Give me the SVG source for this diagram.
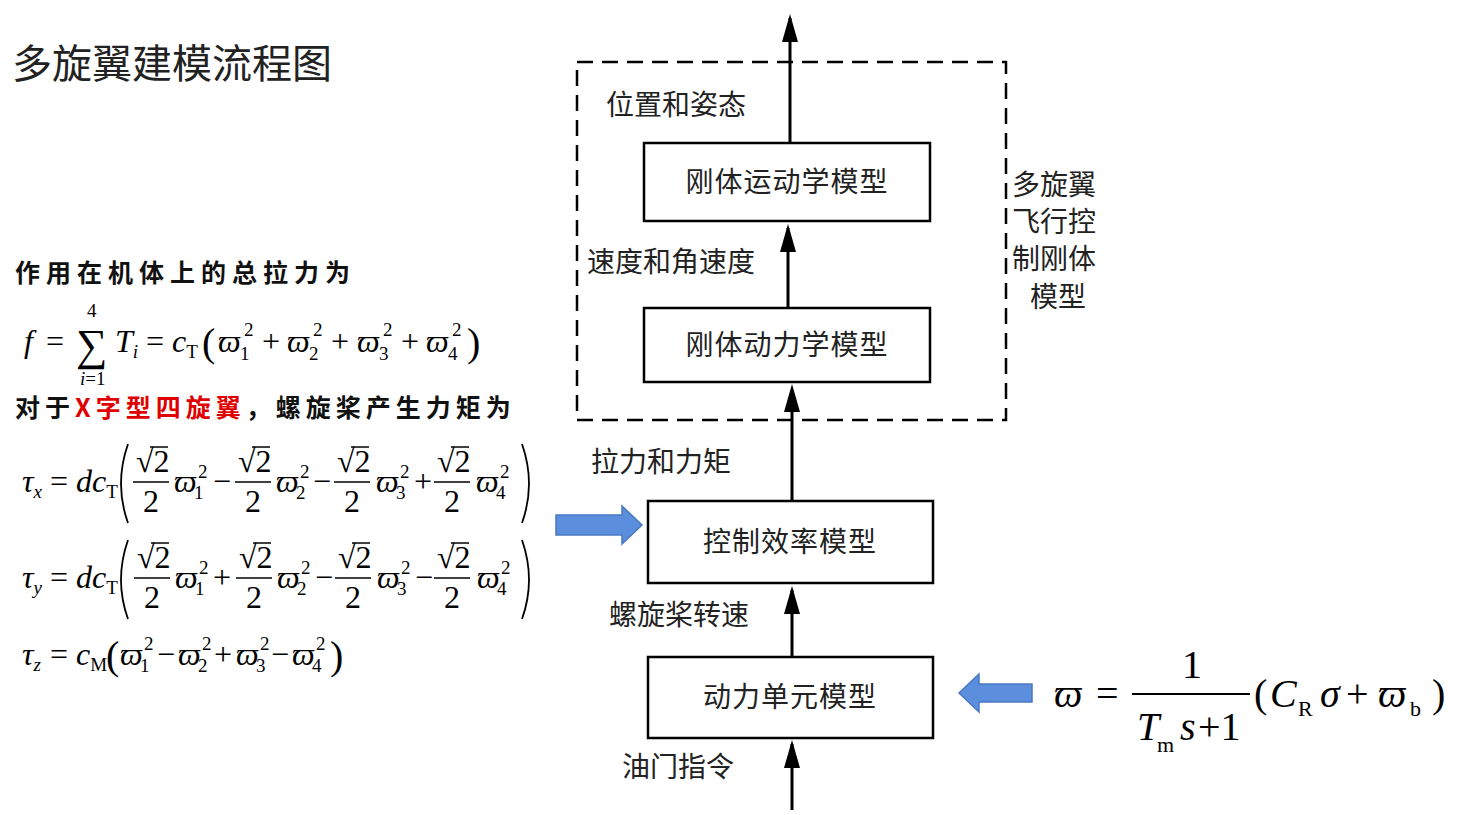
<svg xmlns="http://www.w3.org/2000/svg" width="1465" height="815" viewBox="0 0 1465 815">
<style>
.cn{font-family:"Noto Sans CJK SC",sans-serif;fill:#222}
.lb{font-size:28px}
.box{fill:#fff;stroke:#000;stroke-width:2.5}
.ln{stroke:#000;stroke-width:3;fill:none}
.m{font-family:"Liberation Serif",serif;font-size:32px;fill:#000}
.i{font-style:italic}
.s{font-size:19px}
.big{font-size:40px}
.bar{stroke:#000;stroke-width:1.5}
.pr{fill:none;stroke:#000;stroke-width:1.8}
.bk{font-family:"Noto Sans CJK SC",sans-serif;font-weight:bold;font-size:25px;fill:#111}
</style>
<defs>
<g id="frac">
<text class="m" x="3" y="-10">√2</text>
<line class="bar" x1="17" y1="-35" x2="35" y2="-35"/>
<line class="bar" x1="0" y1="0" x2="36" y2="0"/>
<text class="m" x="10" y="30">2</text>
</g>
</defs>
<rect width="1465" height="815" fill="#fff"/>
<text class="cn" x="12" y="78" style="font-size:40px">多旋翼建模流程图</text>

<g id="connectors">
<rect x="577" y="62" width="429" height="358" fill="none" stroke="#000" stroke-width="2.5" stroke-dasharray="16,9"/>
<line class="ln" x1="790" y1="143" x2="790" y2="18"/><path d="M782,42L790,14L798,42z"/>
<line class="ln" x1="788" y1="308" x2="788" y2="228"/><path d="M780,252L788,224L796,252z"/>
<line class="ln" x1="792" y1="501" x2="792" y2="390"/><path d="M784,412L792,384L800,412z"/>
<line class="ln" x1="792" y1="657" x2="792" y2="590"/><path d="M784,614L792,586L800,614z"/>
<line class="ln" x1="792" y1="810" x2="792" y2="744"/><path d="M784,768L792,740L800,768z"/>
<path d="M556,515H622V506L642,525L622,544V535H556z" fill="#5b8fde" stroke="#4a78c0" stroke-width="1.5"/>
<path d="M1032,684H979V674L959,693L979,712V702H1032z" fill="#5b8fde" stroke="#4a78c0" stroke-width="1.5"/>
</g>

<g id="n1"><rect class="box" x="644" y="143" width="286" height="78"/><text class="cn lb" x="787" y="192" text-anchor="middle" letter-spacing="1">刚体运动学模型</text></g>
<g id="n2"><rect class="box" x="644" y="308" width="286" height="74"/><text class="cn lb" x="787" y="355" text-anchor="middle" letter-spacing="1">刚体动力学模型</text></g>
<g id="n3"><rect class="box" x="648" y="501" width="285" height="82"/><text class="cn lb" x="790" y="552" text-anchor="middle" letter-spacing="1">控制效率模型</text></g>
<g id="n4"><rect class="box" x="648" y="657" width="285" height="81"/><text class="cn lb" x="790" y="707" text-anchor="middle" letter-spacing="1">动力单元模型</text></g>

<g id="labels" class="cn lb">
<text x="606" y="115">位置和姿态</text>
<text x="587" y="272">速度和角速度</text>
<text x="591" y="472">拉力和力矩</text>
<text x="609" y="625">螺旋桨转速</text>
<text x="622" y="777">油门指令</text>
<text x="1012" y="195">多旋翼</text>
<text x="1012" y="232">飞行控</text>
<text x="1012" y="269">制刚体</text>
<text x="1030" y="307">模型</text>
</g>

<text class="bk" x="15" y="282" letter-spacing="6">作用在机体上的总拉力为</text>
<text class="bk" x="15" y="417" letter-spacing="5">对于<tspan fill="#e00000">X字型四旋翼</tspan>，螺旋桨产生力矩为</text>

<!-- f formula -->
<g>
<text class="m i" x="24" y="352">f</text>
<text class="m" x="46" y="352">=</text>
<text class="m" x="76" y="360" style="font-size:44px">∑</text>
<text class="m s" x="87" y="317">4</text>
<text class="m s" x="80" y="385"><tspan class="i">i</tspan>=1</text>
<text class="m i" x="115" y="352">T<tspan class="s" dy="6">i</tspan></text>
<text class="m" x="146" y="352">=</text>
<text class="m i" x="172" y="352">c<tspan class="s" font-style="normal" dy="6">T</tspan></text>
<text class="m big" x="202" y="356">(</text>
<text class="m i" x="218" y="352">ϖ</text><text class="m s" x="244" y="336">2</text><text class="m s" x="240" y="360">1</text>
<text class="m" x="262" y="352">+</text>
<text class="m i" x="287" y="352">ϖ</text><text class="m s" x="313" y="336">2</text><text class="m s" x="309" y="360">2</text>
<text class="m" x="331" y="352">+</text>
<text class="m i" x="357" y="352">ϖ</text><text class="m s" x="383" y="336">2</text><text class="m s" x="379" y="360">3</text>
<text class="m" x="401" y="352">+</text>
<text class="m i" x="426" y="352">ϖ</text><text class="m s" x="452" y="336">2</text><text class="m s" x="448" y="360">4</text>
<text class="m big" x="467" y="356">)</text>
</g>

<!-- tau x -->
<g>
<text class="m i" x="22" y="492">τ<tspan class="s" dy="6">x</tspan></text>
<text class="m" x="50" y="492">=</text>
<text class="m i" x="76" y="492">dc<tspan class="s" font-style="normal" dy="6">T</tspan></text>
<path class="pr" d="M128,444Q114,484 128,523"/>
<path class="pr" d="M522,444Q536,484 522,523"/>
<use href="#frac" x="133" y="482"/>
<text class="m i" x="174" y="492">ϖ</text><text class="m s" x="198" y="478">2</text><text class="m s" x="194" y="499">1</text>
<text class="m" x="213" y="492">−</text>
<use href="#frac" x="235" y="482"/>
<text class="m i" x="276" y="492">ϖ</text><text class="m s" x="300" y="478">2</text><text class="m s" x="296" y="499">2</text>
<text class="m" x="313" y="492">−</text>
<use href="#frac" x="334" y="482"/>
<text class="m i" x="376" y="492">ϖ</text><text class="m s" x="400" y="478">2</text><text class="m s" x="396" y="499">3</text>
<text class="m" x="414" y="492">+</text>
<use href="#frac" x="434" y="482"/>
<text class="m i" x="476" y="492">ϖ</text><text class="m s" x="500" y="478">2</text><text class="m s" x="496" y="499">4</text>
</g>

<!-- tau y -->
<g>
<text class="m i" x="22" y="588">τ<tspan class="s" dy="6">y</tspan></text>
<text class="m" x="50" y="588">=</text>
<text class="m i" x="76" y="588">dc<tspan class="s" font-style="normal" dy="6">T</tspan></text>
<path class="pr" d="M128,540Q114,580 128,619"/>
<path class="pr" d="M522,540Q536,580 522,619"/>
<use href="#frac" x="134" y="578"/>
<text class="m i" x="175" y="588">ϖ</text><text class="m s" x="199" y="574">2</text><text class="m s" x="195" y="595">1</text>
<text class="m" x="213" y="588">+</text>
<use href="#frac" x="236" y="578"/>
<text class="m i" x="277" y="588">ϖ</text><text class="m s" x="301" y="574">2</text><text class="m s" x="297" y="595">2</text>
<text class="m" x="315" y="588">−</text>
<use href="#frac" x="335" y="578"/>
<text class="m i" x="377" y="588">ϖ</text><text class="m s" x="401" y="574">2</text><text class="m s" x="397" y="595">3</text>
<text class="m" x="415" y="588">−</text>
<use href="#frac" x="434" y="578"/>
<text class="m i" x="477" y="588">ϖ</text><text class="m s" x="501" y="574">2</text><text class="m s" x="497" y="595">4</text>
</g>

<!-- tau z -->
<g>
<text class="m i" x="22" y="665">τ<tspan class="s" dy="6">z</tspan></text>
<text class="m" x="50" y="665">=</text>
<text class="m i" x="76" y="665">c<tspan class="s" font-style="normal" dy="6">M</tspan></text>
<text class="m big" x="106" y="669">(</text>
<text class="m i" x="120" y="665">ϖ</text><text class="m s" x="144" y="650">2</text><text class="m s" x="140" y="672">1</text>
<text class="m" x="157" y="665">−</text>
<text class="m i" x="178" y="665">ϖ</text><text class="m s" x="202" y="650">2</text><text class="m s" x="198" y="672">2</text>
<text class="m" x="214" y="665">+</text>
<text class="m i" x="236" y="665">ϖ</text><text class="m s" x="260" y="650">2</text><text class="m s" x="256" y="672">3</text>
<text class="m" x="271" y="665">−</text>
<text class="m i" x="292" y="665">ϖ</text><text class="m s" x="316" y="650">2</text><text class="m s" x="312" y="672">4</text>
<text class="m big" x="330" y="669">)</text>
</g>

<!-- omega formula -->
<g>
<text class="m i" x="1054" y="707" style="font-size:40px">ϖ</text>
<text class="m" x="1096" y="707" style="font-size:40px">=</text>
<text class="m" x="1182" y="678" style="font-size:40px">1</text>
<line x1="1132" y1="694" x2="1250" y2="694" stroke="#000" stroke-width="2"/>
<text class="m i" x="1137" y="740" style="font-size:40px">T</text><text class="m" x="1157" y="752" style="font-size:22px">m</text>
<text class="m i" x="1180" y="740" style="font-size:40px">s</text>
<text class="m" x="1198" y="740" style="font-size:40px">+1</text>
<text class="m" x="1254" y="707" style="font-size:40px">(</text>
<text class="m i" x="1270" y="707" style="font-size:40px">C</text><text class="m" x="1298" y="716" style="font-size:22px">R</text>
<text class="m i" x="1320" y="707" style="font-size:40px">σ</text>
<text class="m" x="1346" y="707" style="font-size:40px">+</text>
<text class="m i" x="1378" y="707" style="font-size:40px">ϖ</text><text class="m" x="1410" y="716" style="font-size:22px">b</text>
<text class="m" x="1432" y="707" style="font-size:40px">)</text>
</g>
</svg>
